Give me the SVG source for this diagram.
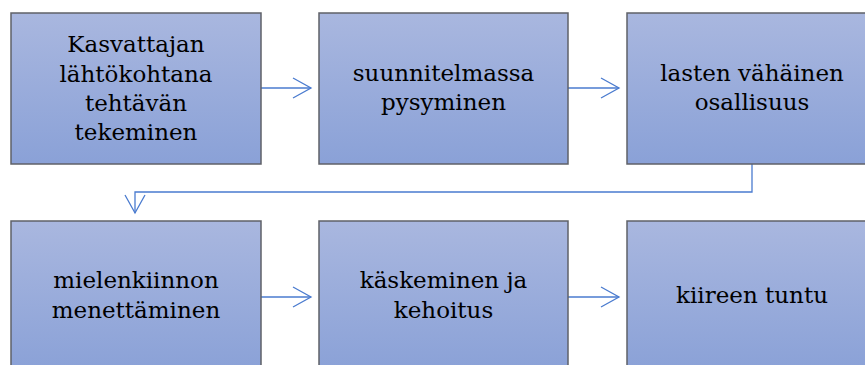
<svg xmlns="http://www.w3.org/2000/svg" width="865" height="365" viewBox="0 0 865 365">
<defs>
<linearGradient id="g" x1="0" y1="0" x2="0" y2="1">
<stop offset="0" stop-color="#a9b7df"/>
<stop offset="1" stop-color="#8aa1d7"/>
</linearGradient>
<marker id="a" markerWidth="22" markerHeight="24" refX="19" refY="11" orient="auto" markerUnits="userSpaceOnUse">
<path d="M1,1 L19,11 L1,21" fill="none" stroke="#4a7bcf" stroke-width="1.3"/>
</marker>
<style>
.box{fill:url(#g);stroke:#5f6168;stroke-width:1.5}
.t{font-family:'DejaVu Serif',serif;font-size:23px;fill:#000;text-anchor:middle}
.c{fill:none;stroke:#4a7bcf;stroke-width:1.3;marker-end:url(#a)}
</style>
</defs>
<rect width="865" height="365" fill="#fff"/>
<g id="connectors">
<path class="c" d="M261,88 H311"/>
<path class="c" d="M568,88 H619"/>
<path class="c" d="M752,164 V192 H135 V213"/>
<path class="c" d="M261,297 H311"/>
<path class="c" d="M568,297 H619"/>
</g>
<g id="n1"><rect class="box" x="11" y="13" width="250" height="151"/>
<text class="t" x="136" y="52">Kasvattajan</text><text class="t" x="136" y="82">lähtökohtana</text><text class="t" x="136" y="111">tehtävän</text><text class="t" x="136" y="140">tekeminen</text></g>
<g id="n2"><rect class="box" x="319" y="13" width="249" height="151"/>
<text class="t" x="443.5" y="81">suunnitelmassa</text><text class="t" x="443.5" y="110">pysyminen</text></g>
<g id="n3"><rect class="box" x="627" y="13" width="250" height="151"/>
<text class="t" x="752" y="81">lasten vähäinen</text><text class="t" x="752" y="110">osallisuus</text></g>
<g id="n4"><rect class="box" x="11" y="221" width="250" height="151"/>
<text class="t" x="136" y="288">mielenkiinnon</text><text class="t" x="136" y="318">menettäminen</text></g>
<g id="n5"><rect class="box" x="319" y="221" width="249" height="151"/>
<text class="t" x="443.5" y="288">käskeminen ja</text><text class="t" x="443.5" y="318">kehoitus</text></g>
<g id="n6"><rect class="box" x="627" y="221" width="250" height="151"/>
<text class="t" x="752" y="303">kiireen tuntu</text></g>
</svg>
